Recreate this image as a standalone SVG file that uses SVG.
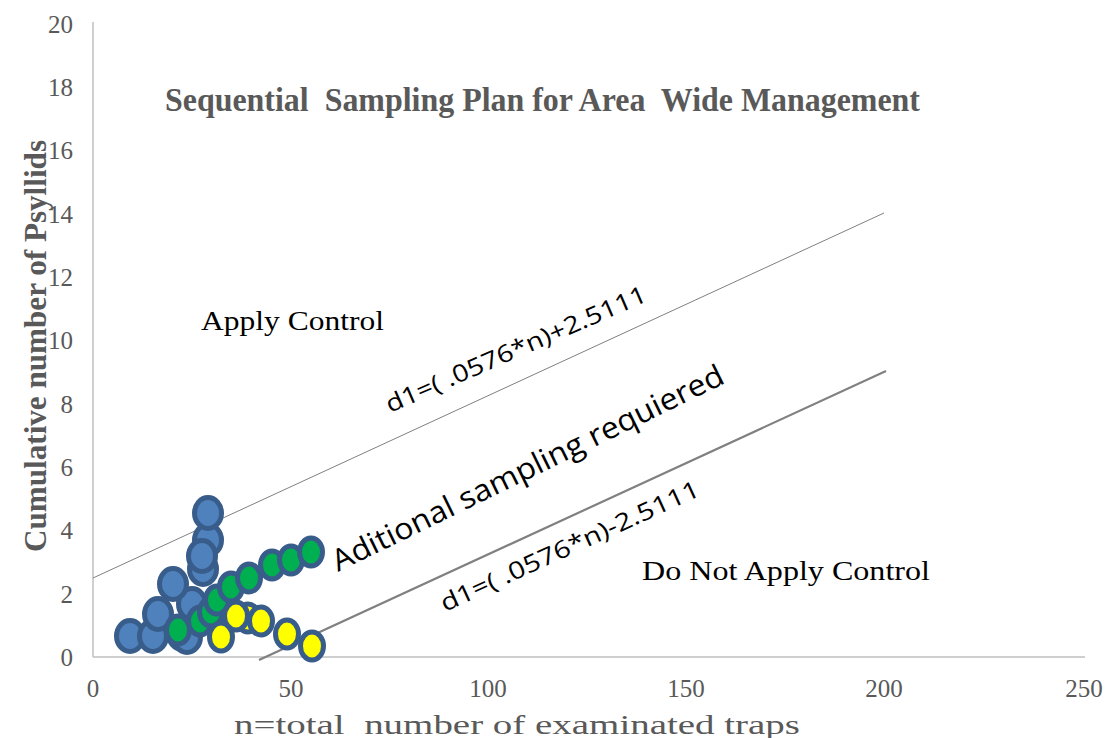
<svg xmlns="http://www.w3.org/2000/svg" width="1107" height="738" viewBox="0 0 1107 738">
<style>
.tick{font-family:"Liberation Serif","Times New Roman",serif;font-size:25px;fill:#595959}
.lbl{font-family:"Liberation Serif","Times New Roman",serif;fill:#000}
.eq{font-family:"Open Sans","Noto Sans",sans-serif;fill:#000}
.axis{stroke:#bfbfbf;stroke-width:1.5;fill:none}
.b{fill:#4f81bd;stroke:#385d8a;stroke-width:5}
.g{fill:#00b050;stroke:#385d8a;stroke-width:5}
.y{fill:#ffff00;stroke:#385d8a;stroke-width:5}
</style>
<rect width="1107" height="738" fill="#fff"/>
<g id="axes">
<line class="axis" x1="93" y1="22" x2="93" y2="657"/>
<line class="axis" x1="93" y1="657" x2="1085" y2="657"/>
</g>
<g id="yticks" class="tick" text-anchor="end">
<text x="73" y="666">0</text>
<text x="73" y="603">2</text>
<text x="73" y="539">4</text>
<text x="73" y="476">6</text>
<text x="73" y="413">8</text>
<text x="73" y="349">10</text>
<text x="73" y="286">12</text>
<text x="73" y="223">14</text>
<text x="73" y="159">16</text>
<text x="73" y="96">18</text>
<text x="73" y="33">20</text>
</g>
<g id="xticks" class="tick" text-anchor="middle">
<text x="93" y="697">0</text>
<text x="291" y="697">50</text>
<text x="488" y="697">100</text>
<text x="686" y="697">150</text>
<text x="884" y="697">200</text>
<text x="1084" y="697">250</text>
</g>
<g id="connectors">
<line x1="93" y1="578" x2="884" y2="213" stroke="#808080" stroke-width="1"/>
<line x1="259" y1="660" x2="886" y2="371" stroke="#808080" stroke-width="2.2"/>
</g>
<g id="title">
<text x="165" y="111" font-family="Liberation Serif,Times New Roman,serif" font-weight="bold" font-size="33" fill="#595959" textLength="755" lengthAdjust="spacingAndGlyphs" xml:space="preserve">Sequential  Sampling Plan for Area  Wide Management</text>
</g>
<g id="ylabel">
<text transform="translate(46,346) rotate(-90)" text-anchor="middle" font-family="Liberation Serif,Times New Roman,serif" font-weight="bold" font-size="32" fill="#595959" textLength="412" lengthAdjust="spacingAndGlyphs">Cumulative number of Psyllids</text>
</g>
<g id="xlabel">
<text x="517" y="734" text-anchor="middle" font-family="Liberation Serif,Times New Roman,serif" font-size="27" fill="#595959" textLength="566" lengthAdjust="spacingAndGlyphs" xml:space="preserve">n=total  number of examinated traps</text>
</g>
<g id="region-labels">
<text class="lbl" x="201" y="330" font-size="27" textLength="183" lengthAdjust="spacingAndGlyphs">Apply Control</text>
<text class="lbl" x="642" y="580" font-size="27" textLength="288" lengthAdjust="spacingAndGlyphs">Do Not Apply Control</text>
</g>
<g id="equations">
<text class="eq" transform="translate(390,413) rotate(-23.5)" font-size="24" textLength="282" lengthAdjust="spacingAndGlyphs">d1=( .0576*n)+2.5111</text>
<text class="eq" transform="translate(445,612) rotate(-24.5)" font-size="24" textLength="282" lengthAdjust="spacingAndGlyphs">d1=( .0576*n)-2.5111</text>
<text class="eq" transform="translate(338,572) rotate(-26)" font-size="30" textLength="432" lengthAdjust="spacingAndGlyphs">Aditional sampling requiered</text>
</g>
<g id="series-blue">
<ellipse class="b" cx="130" cy="636" rx="13.5" ry="15.5"/>
<ellipse class="b" cx="153" cy="636" rx="13.5" ry="15.5"/>
<ellipse class="b" cx="182" cy="634" rx="13.5" ry="15.5"/>
<ellipse class="b" cx="187" cy="637" rx="13.5" ry="15.5"/>
<ellipse class="b" cx="158" cy="614" rx="13.5" ry="15.5"/>
<ellipse class="b" cx="192" cy="604" rx="13.5" ry="15.5"/>
<ellipse class="b" cx="173" cy="584" rx="13.5" ry="15.5"/>
<ellipse class="b" cx="203" cy="569" rx="13.5" ry="15.5"/>
<ellipse class="b" cx="208" cy="540" rx="13.5" ry="15.5"/>
<ellipse class="b" cx="202" cy="556" rx="13.5" ry="15.5"/>
<ellipse class="b" cx="208" cy="513" rx="13.5" ry="15.5"/>
</g>
<g id="series-green">
<ellipse class="g" cx="178" cy="630" rx="11.5" ry="14"/>
<ellipse class="g" cx="200" cy="621" rx="11.5" ry="14"/>
<ellipse class="g" cx="211" cy="612" rx="11.5" ry="14"/>
<ellipse class="g" cx="217" cy="600" rx="11.5" ry="14"/>
<ellipse class="g" cx="231" cy="587" rx="11.5" ry="14"/>
<ellipse class="g" cx="249" cy="578" rx="11.5" ry="14"/>
<ellipse class="g" cx="272" cy="565" rx="11.5" ry="14"/>
<ellipse class="g" cx="291" cy="560" rx="11.5" ry="14"/>
<ellipse class="g" cx="311" cy="552" rx="11.5" ry="14"/>
</g>
<g id="series-yellow">
<ellipse class="y" cx="221" cy="637" rx="11.5" ry="14"/>
<ellipse class="y" cx="248" cy="618" rx="11.5" ry="14"/>
<ellipse class="y" cx="236" cy="616" rx="11.5" ry="14"/>
<ellipse class="y" cx="261" cy="621" rx="11.5" ry="14"/>
<ellipse class="y" cx="287" cy="634" rx="11.5" ry="14"/>
<ellipse class="y" cx="312" cy="646" rx="11.5" ry="14"/>
</g>
</svg>
